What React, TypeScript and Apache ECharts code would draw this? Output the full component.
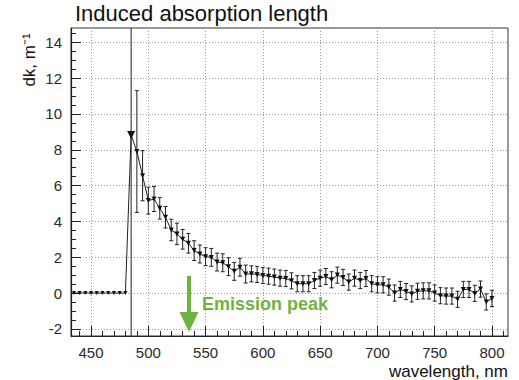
import React, { useEffect, useRef } from 'react';
import * as echarts from 'echarts';

const wavelengths = [
  435, 440, 445, 450, 455, 460, 465, 470, 475, 480,
  485, 490, 495, 500, 505, 510, 515, 520, 525, 530,
  535, 540, 545, 550, 555, 560, 565, 570, 575, 580,
  585, 590, 595, 600, 605, 610, 615, 620, 625, 630,
  635, 640, 645, 650, 655, 660, 665, 670, 675, 680,
  685, 690, 695, 700, 705, 710, 715, 720, 725, 730,
  735, 740, 745, 750, 755, 760, 765, 770, 775, 780,
  785, 790, 795, 800,
];

const dk = [
  0, 0, 0, 0, 0, 0, 0, 0, 0, 0,
  8.83, 7.9, 6.55, 5.16, 5.25, 4.73, 4.23, 3.52, 3.3, 3.0,
  2.78, 2.37, 2.18, 2.03, 1.99, 1.73, 1.69, 1.47, 1.21, 1.44,
  1.06, 1.07, 1.04, 0.98, 0.94, 0.89, 0.83, 0.81, 0.68, 0.52,
  0.52, 0.52, 0.7, 0.83, 0.92, 0.74, 1.0, 0.87, 0.61, 0.83,
  0.7, 0.81, 0.52, 0.46, 0.46, 0.33, 0.0, 0.2, 0.08, -0.05,
  0.1, 0.12, 0.12, 0.0, -0.15, -0.17, -0.17, -0.35, 0.2, 0.2,
  -0.02, 0.22, -0.5, -0.3,
];

const dkErr = [
  0, 0, 0, 0, 0, 0, 0, 0, 0, 0,
  30, 3.4, 1.4, 0.75, 0.7, 0.6, 0.6, 0.6, 0.6, 0.55,
  0.55, 0.55, 0.5, 0.5, 0.5, 0.5, 0.5, 0.5, 0.5, 0.5,
  0.5, 0.45, 0.45, 0.45, 0.45, 0.45, 0.45, 0.45, 0.45, 0.45,
  0.45, 0.45, 0.45, 0.45, 0.45, 0.45, 0.45, 0.45, 0.45, 0.45,
  0.45, 0.45, 0.45, 0.45, 0.45, 0.45, 0.45, 0.45, 0.45, 0.45,
  0.45, 0.45, 0.45, 0.45, 0.45, 0.45, 0.45, 0.45, 0.45, 0.45,
  0.45, 0.45, 0.45, 0.45,
];

const xTickLabels = [450, 500, 550, 600, 650, 700, 750, 800];
const yTickLabels = [-2, 0, 2, 4, 6, 8, 10, 12, 14];

const X_MIN = 432.5;
const X_MAX = 814;
const Y_MIN = -2.4;
const Y_MAX = 14.8;

const emissionPeak = 535.5;

const FONT = '"Liberation Sans", Arial, Helvetica, sans-serif';

export default function App() {
  const ref = useRef<HTMLDivElement>(null);

  useEffect(() => {
    if (!ref.current) return;
    const chart = echarts.init(ref.current, undefined, { renderer: 'svg' });

    const minorX: number[] = [];
    for (let v = 440; v <= 810; v += 10) if (v % 50 !== 0) minorX.push(v);
    const minorY: number[] = [];
    for (let v = -2; v <= 14.5; v += 0.5) if (v % 2 !== 0) minorY.push(v);

    const lineData = wavelengths.map((w, i) => [w, dk[i]]);
    const errData = wavelengths.map((w, i) => [w, dk[i], dkErr[i]]);

    const axisLabelStyle = { color: '#2a2a2a', fontSize: 15, fontFamily: FONT };
    const gridLine = { show: true, lineStyle: { color: '#9a9a9a', width: 1, type: [1, 2] as any } };

    chart.setOption({
      animation: false,
      grid: {
        left: 71,
        top: 28,
        right: 11,
        bottom: 44,
        show: true,
        borderColor: '#333',
        borderWidth: 1,
        backgroundColor: 'transparent',
      },
      xAxis: [
        {
          type: 'value',
          min: X_MIN,
          max: X_MAX,
          position: 'bottom',
          axisLine: { show: true, onZero: false, lineStyle: { color: '#222', width: 1.2 } },
          axisTick: { show: true, inside: true, length: 10, customValues: xTickLabels, lineStyle: { color: '#222' } },
          axisLabel: { show: true, customValues: xTickLabels, margin: 9, ...axisLabelStyle },
          splitLine: gridLine,
          minorTick: { show: false },
        },
        {
          type: 'value',
          min: X_MIN,
          max: X_MAX,
          position: 'bottom',
          axisLine: { show: false, onZero: false },
          axisTick: { show: true, inside: true, length: 5, customValues: minorX, lineStyle: { color: '#222' } },
          axisLabel: { show: false },
          splitLine: { show: false },
        },
      ],
      yAxis: [
        {
          type: 'value',
          min: Y_MIN,
          max: Y_MAX,
          position: 'left',
          axisLine: { show: true, onZero: false, lineStyle: { color: '#222', width: 1.2 } },
          axisTick: { show: true, inside: true, length: 10, customValues: yTickLabels, lineStyle: { color: '#222' } },
          axisLabel: { show: true, customValues: yTickLabels, margin: 9, ...axisLabelStyle },
          splitLine: gridLine,
        },
        {
          type: 'value',
          min: Y_MIN,
          max: Y_MAX,
          position: 'left',
          axisLine: { show: false, onZero: false },
          axisTick: { show: true, inside: true, length: 5, customValues: minorY, lineStyle: { color: '#222' } },
          axisLabel: { show: false },
          splitLine: { show: false },
        },
      ],
      series: [
        {
          type: 'custom',
          xAxisIndex: 0,
          yAxisIndex: 0,
          data: errData,
          z: 2,
          silent: true,
          renderItem: (params: any, api: any) => {
            const x = api.value(0);
            const y = api.value(1);
            const e = api.value(2);
            if (!e) return null;
            const top = api.coord([x, y + e]);
            const bot = api.coord([x, y - e]);
            const cs = params.coordSys;
            const y1 = Math.max(top[1], cs.y);
            const y2 = Math.min(bot[1], cs.y + cs.height);
            const stroke = { stroke: '#222', lineWidth: 1 };
            const children: any[] = [
              { type: 'line', shape: { x1: top[0], y1, x2: top[0], y2 }, style: stroke },
            ];
            if (top[1] >= cs.y) {
              children.push({ type: 'line', shape: { x1: top[0] - 2, y1: top[1], x2: top[0] + 2, y2: top[1] }, style: stroke });
            }
            if (bot[1] <= cs.y + cs.height) {
              children.push({ type: 'line', shape: { x1: bot[0] - 2, y1: bot[1], x2: bot[0] + 2, y2: bot[1] }, style: stroke });
            }
            return { type: 'group', children };
          },
        },
        {
          type: 'line',
          xAxisIndex: 0,
          yAxisIndex: 0,
          data: lineData,
          z: 3,
          symbol: 'triangle',
          symbolRotate: 180,
          symbolSize: (v: number[]) => (v[0] < 485 ? 4 : v[0] === 485 ? 8 : 5),
          itemStyle: { color: '#111' },
          lineStyle: { color: '#222', width: 1 },
          silent: true,
          markLine: {
            silent: true,
            symbol: ['none', 'triangle'],
            symbolSize: [19, 20],
            label: { show: false },
            lineStyle: { color: '#6cb33f', width: 4, type: 'solid' },
            data: [[{ coord: [emissionPeak, 0.96] }, { coord: [emissionPeak, -1.62] }]],
          },
        },
      ],
      graphic: [
        {
          type: 'text',
          left: 75,
          top: 2,
          style: { text: 'Induced absorption length', fontSize: 22, fontFamily: FONT, fill: '#111' },
        },
        {
          type: 'text',
          x: 29,
          y: 60,
          rotation: Math.PI / 2,
          style: {
            text: 'dk, m⁻¹',
            fontSize: 17,
            fontFamily: FONT,
            fill: '#111',
            align: 'center',
            verticalAlign: 'middle',
          },
        },
        {
          type: 'text',
          x: 508,
          y: 371,
          style: {
            text: 'wavelength, nm',
            fontSize: 17,
            fontFamily: FONT,
            fill: '#111',
            align: 'right',
            verticalAlign: 'middle',
          },
        },
        {
          type: 'text',
          x: 202,
          y: 304,
          style: {
            text: 'Emission peak',
            fontSize: 18,
            fontWeight: 'bold',
            fontFamily: FONT,
            fill: '#6cb33f',
            align: 'left',
            verticalAlign: 'middle',
          },
        },
      ],
    });

    return () => chart.dispose();
  }, []);

  return (
    <div
      ref={ref}
      style={{ position: 'fixed', left: 0, top: 0, width: 519, height: 380, background: '#fff' }}
    />
  );
}
